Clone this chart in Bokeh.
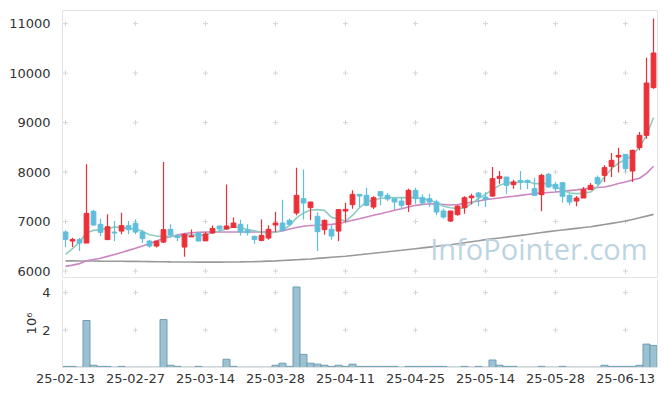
from bokeh.plotting import figure
from bokeh.layouts import column
from bokeh.models import ColumnDataSource, FixedTicker, Range1d, Label, LinearAxis
from bokeh.embed import file_html
from bokeh.resources import INLINE

dates = ["25-02-13","25-02-14","25-02-17","25-02-18","25-02-19","25-02-20","25-02-21","25-02-24","25-02-25","25-02-26",
         "25-02-27","25-02-28","25-03-04","25-03-05","25-03-06","25-03-07","25-03-10","25-03-11","25-03-12","25-03-13",
         "25-03-14","25-03-17","25-03-18","25-03-19","25-03-20","25-03-21","25-03-24","25-03-25","25-03-26","25-03-27",
         "25-03-28","25-03-31","25-04-01","25-04-02","25-04-03","25-04-04","25-04-07","25-04-08","25-04-09","25-04-10",
         "25-04-11","25-04-14","25-04-15","25-04-16","25-04-17","25-04-18","25-04-21","25-04-22","25-04-23","25-04-24",
         "25-04-25","25-04-28","25-04-29","25-04-30","25-05-02","25-05-07","25-05-08","25-05-09","25-05-12","25-05-13",
         "25-05-14","25-05-15","25-05-16","25-05-19","25-05-20","25-05-21","25-05-22","25-05-23","25-05-26","25-05-27",
         "25-05-28","25-05-29","25-05-30","25-06-02","25-06-04","25-06-05","25-06-09","25-06-10","25-06-11","25-06-12",
         "25-06-13","25-06-16","25-06-17","25-06-18","25-06-19"]

opens = [6790,6606,6640,6566,7207,6944,6635,6788,6808,6917,6964,6788,6606,6505,6586,6843,6710,6485,6690,6768,
         6610,6770,6910,6850,6880,6944,6820,6700,6620,6667,6930,6970,7025,7172,7463,7281,7105,6837,6843,6808,
         7213,7342,7550,7530,7294,7604,7530,7463,7415,7342,7631,7483,7463,7395,7213,7011,7140,7281,7483,7577,
         7496,7516,7873,7900,7746,7830,7833,7665,7544,7954,7752,7786,7530,7415,7476,7645,7887,7934,8116,8304,
         8358,8021,8494,8742,9706]
highs = [6820,6675,6675,8156,7241,7059,7146,7010,7180,7010,7044,6837,6635,6606,8203,6944,6756,6760,6840,6790,
         6790,6920,6910,7750,7080,7039,6944,6721,7040,6924,7200,7443,7060,8090,8050,7400,7186,7040,6924,7250,
         7380,7631,7550,7685,7510,7604,7577,7463,7496,7665,7685,7550,7564,7443,7261,7220,7330,7510,7564,7597,
         7597,8102,8021,7900,7847,8021,7850,7887,7968,7981,7799,7786,7564,7516,7700,7780,7930,8136,8385,8494,
         8358,8454,8809,10312,11101]
lows = [6485,6485,6404,6566,6917,6701,6635,6606,6742,6742,6742,6566,6473,6478,6566,6675,6606,6290,6690,6606,
        6606,6750,6790,6840,6870,6721,6721,6553,6600,6635,6790,6810,6920,7126,7040,7025,6404,6735,6635,6600,
        6990,7261,7294,7308,7253,7328,7409,7241,7261,7193,7362,7328,7294,7126,7059,6990,7120,7160,7348,7308,
        7294,7496,7766,7564,7665,7645,7660,7530,7207,7685,7597,7382,7328,7308,7476,7640,7740,7800,7900,7990,
        8001,7799,8439,8675,9686]
closes = [6640,6640,6566,7166,6930,6782,6897,6768,6917,6837,6788,6655,6505,6606,6837,6728,6680,6742,6710,6606,
          6750,6860,6850,6910,6970,6790,6775,6640,6720,6843,6970,6822,6944,7530,7374,7395,6796,7025,6707,7241,
          7247,7550,7516,7328,7483,7516,7455,7395,7328,7631,7463,7374,7395,7193,7091,7213,7314,7483,7516,7496,
          7455,7867,7914,7732,7800,7800,7793,7530,7934,7698,7665,7510,7395,7476,7645,7732,7766,8090,8237,8338,
          8069,8439,8742,9800,10406]

ma5 = [6337,6452,6586,6776,6822,6837,6857,6890,6877,6857,6850,6802,6735,6707,6700,6700,6700,6721,6735,6721,
       6735,6776,6810,6850,6895,6877,6837,6815,6785,6770,6785,6830,6915,7075,7175,7235,7241,7227,7085,7052,
       7010,7126,7280,7400,7430,7470,7480,7483,7483,7483,7480,7460,7430,7390,7310,7280,7261,7275,7362,7470,
       7550,7645,7732,7779,7790,7795,7810,7766,7766,7766,7698,7645,7577,7564,7575,7597,7712,7900,8069,8183,
       8251,8338,8506,8742,9100]
ma20 = [6095,6120,6150,6210,6235,6260,6297,6335,6375,6418,6460,6505,6554,6606,6660,6700,6730,6760,6775,6782,
        6788,6790,6790,6790,6788,6788,6788,6788,6788,6788,6790,6810,6850,6880,6905,6920,6925,6935,6944,6960,
        6990,7025,7058,7092,7126,7160,7193,7227,7261,7295,7328,7345,7360,7355,7345,7335,7345,7365,7390,7415,
        7443,7460,7478,7495,7512,7530,7548,7564,7577,7587,7597,7610,7625,7640,7660,7675,7690,7700,7730,7770,
        7800,7840,7875,7975,8118]
ma_long = [6205,6205,6204,6203,6202,6200,6199,6198,6197,6196,6195,6193,6191,6189,6187,6185,6184,6183,6182,6181,
           6180,6180,6181,6182,6183,6185,6188,6191,6195,6200,6205,6213,6221,6229,6237,6245,6256,6267,6278,6289,
           6300,6315,6330,6345,6360,6375,6390,6405,6420,6436,6452,6468,6484,6500,6516,6533,6553,6573,6594,6614,
           6635,6652,6669,6686,6704,6721,6740,6759,6778,6797,6815,6831,6847,6863,6879,6895,6918,6941,6964,6987,
           7010,7043,7076,7110,7145]
vol_millions = [0.06,0.06,0.02,2.51,0.12,0.06,0.06,0.02,0.06,0.02,0.02,0.02,0.02,0.02,2.56,0.12,0.06,0.02,0.02,0.06,
                0.02,0.02,0.02,0.44,0.06,0.02,0.02,0.02,0.02,0.02,0.12,0.23,0.06,4.30,0.70,0.23,0.18,0.12,0.06,0.12,
                0.06,0.18,0.06,0.06,0.06,0.06,0.06,0.06,0.02,0.06,0.06,0.06,0.06,0.06,0.06,0.02,0.02,0.06,0.02,0.06,
                0.02,0.40,0.12,0.06,0.06,0.02,0.02,0.02,0.06,0.02,0.02,0.06,0.02,0.02,0.02,0.02,0.02,0.12,0.06,0.06,
                0.06,0.06,0.12,1.25,1.18]

price_ticks = [6000, 7000, 8000, 9000, 10000, 11000]
vol_ticks = [2, 4]
date_tick_step = 10

FONT = "DejaVu Sans"
UP = "#ec3038"
DOWN = "#5fbfdb"
GRIDC = "#d6d6d6"
BORDER = "#e3e3e3"

idx = list(range(len(dates)))
colors = [UP if c >= o else DOWN for o, c in zip(opens, closes)]
src = ColumnDataSource(dict(
    x=idx, open=opens, high=highs, low=lows, close=closes,
    top=[max(o, c) for o, c in zip(opens, closes)],
    bottom=[min(o, c) for o, c in zip(opens, closes)],
    color=colors, ma5=ma5, ma20=ma20, mal=ma_long, vol=vol_millions))

x_tick_idx = idx[::date_tick_step]
xr = Range1d(-0.43, len(dates) - 0.43)

def style_common(f):
    f.grid.visible = False
    f.background_fill_color = "white"
    f.border_fill_color = "white"
    for ax in f.axis:
        ax.axis_line_color = BORDER
        ax.major_tick_line_color = None
        ax.minor_tick_line_color = None
        ax.major_label_text_font = FONT
        ax.major_label_text_font_size = "13px"
        ax.major_label_text_color = "#333333"

p = figure(width=663, height=279, x_range=xr, y_range=Range1d(5870, 11265),
           output_backend="svg", toolbar_location=None, x_axis_location=None,
           min_border_left=62, min_border_right=6, min_border_top=10, min_border_bottom=2)
style_common(p)
p.outline_line_color = BORDER
p.yaxis.ticker = FixedTicker(ticks=price_ticks)
p.yaxis.major_label_standoff = 6

gx = [x for x in x_tick_idx for _ in price_ticks]
gy = [y for _ in x_tick_idx for y in price_ticks]
p.scatter(gx, gy, marker="cross", size=5, line_color=GRIDC, line_width=1)

wm = Label(x=52.1, y=6070, text="InfoPointer.com", text_font="Open Sans", text_font_size="29px",
           text_color="#bcd4e2", text_alpha=1.0)
p.add_layout(wm)

p.line("x", "mal", source=src, line_color="#999999", line_width=1.6)
p.line("x", "ma20", source=src, line_color="#cc86c2", line_width=1.6)
p.line("x", "ma5", source=src, line_color="#8fcdc2", line_width=1.6)

p.segment(x0="x", y0="high", x1="x", y1="low", source=src, line_color="color", line_width=1.2)
p.vbar(x="x", top="top", bottom="bottom", width=0.68, source=src, fill_color="color", line_color="color", line_width=1)

v = figure(width=663, height=113, x_range=xr, y_range=Range1d(0, 4.7),
           output_backend="svg", toolbar_location=None,
           min_border_left=62, min_border_right=6, min_border_top=0, min_border_bottom=25)
style_common(v)
v.outline_line_color = None
v.yaxis.ticker = FixedTicker(ticks=vol_ticks)
v.yaxis.major_label_standoff = 6
v.yaxis.axis_label = "10\u2076"
v.yaxis.axis_label_text_font = FONT
v.yaxis.axis_label_text_font_size = "13px"
v.yaxis.axis_label_text_font_style = "normal"
v.yaxis.axis_label_text_color = "#333333"
v.yaxis.axis_label_standoff = 0
v.xaxis.ticker = FixedTicker(ticks=x_tick_idx)
v.xaxis.major_label_overrides = {i: dates[i] for i in x_tick_idx}
v.xaxis.major_label_standoff = 0

right_edge = LinearAxis(ticker=FixedTicker(ticks=[]), axis_line_color=BORDER,
                        major_tick_line_color=None, minor_tick_line_color=None,
                        major_label_text_font_size="1px", major_label_standoff=0)
v.add_layout(right_edge, "right")

vgx = [x for x in x_tick_idx for _ in vol_ticks]
vgy = [y for _ in x_tick_idx for y in vol_ticks]
v.scatter(vgx, vgy, marker="cross", size=5, line_color=GRIDC, line_width=1)
v.vbar(x="x", top="vol", bottom=0, width=1.0, source=src, fill_color="#9cc2d2", line_color="#6f9db3", line_width=1)

layout = column(p, v, spacing=0)
open("out.html", "w").write(file_html(layout, INLINE))
